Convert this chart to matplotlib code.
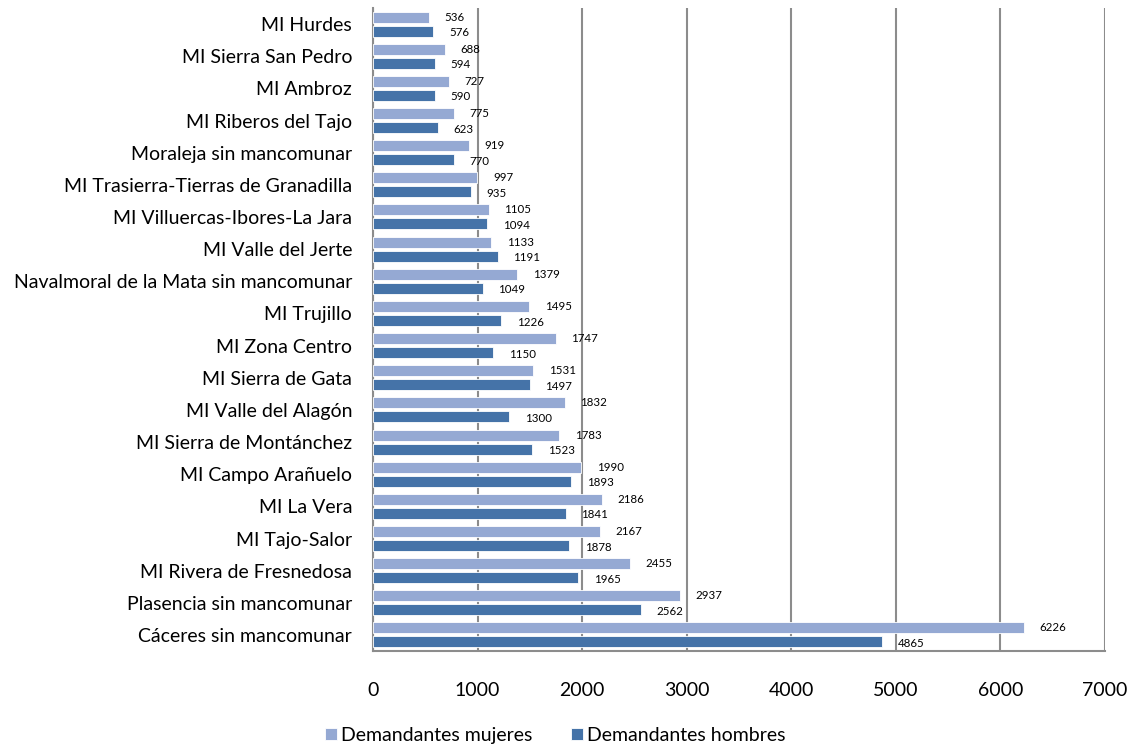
import matplotlib
matplotlib.use("Agg")
import matplotlib.pyplot as plt
import numpy as np

plt.rcParams['font.family'] = ['Lato', 'DejaVu Sans']

categories = [
    "MI Hurdes", "MI Sierra San Pedro", "MI Ambroz", "MI Riberos del Tajo",
    "Moraleja sin mancomunar", "MI Trasierra-Tierras de Granadilla",
    "MI Villuercas-Ibores-La Jara", "MI Valle del Jerte",
    "Navalmoral de la Mata sin mancomunar", "MI Trujillo", "MI Zona Centro",
    "MI Sierra de Gata", "MI Valle del Alagón", "MI Sierra de Montánchez",
    "MI Campo Arañuelo", "MI La Vera", "MI Tajo-Salor",
    "MI Rivera de Fresnedosa", "Plasencia sin mancomunar",
    "Cáceres sin mancomunar",
]
mujeres = [536, 688, 727, 775, 919, 997, 1105, 1133, 1379, 1495, 1747, 1531,
           1832, 1783, 1990, 2186, 2167, 2455, 2937, 6226]
hombres = [576, 594, 590, 623, 770, 935, 1094, 1191, 1049, 1226, 1150, 1497,
           1300, 1523, 1893, 1841, 1878, 1965, 2562, 4865]
xticks = [0, 1000, 2000, 3000, 4000, 5000, 6000, 7000]

c_muj = "#95A9D3"
c_hom = "#4573A8"

fig = plt.figure(figsize=(11.33, 7.46), dpi=100)
ax = fig.add_axes([0.3292, 0.1273, 0.9753 - 0.3292, 0.9893 - 0.1273])

n = len(categories)
y = np.arange(n)
h = 0.342
off = 0.218
b1 = ax.barh(y - off, mujeres, height=h, color=c_muj, edgecolor="white",
             linewidth=0.6, label="Demandantes mujeres", zorder=3)
b2 = ax.barh(y + off, hombres, height=h, color=c_hom, edgecolor="white",
             linewidth=0.6, label="Demandantes hombres", zorder=3)

for yy, v in zip(y - off, mujeres):
    ax.text(v + 150, yy, str(v), fontsize=8.3, va="center", ha="left", zorder=4)
for yy, v in zip(y + off, hombres):
    ax.text(v + 150, yy + 0.05, str(v), fontsize=8.3, va="center", ha="left", zorder=4)

ax.set_ylim(n - 0.5, -0.5)
ax.set_xlim(0, 7000)
ax.set_yticks(y)
ax.set_yticklabels(categories, fontsize=14)
ax.set_xticks(xticks)
ax.set_xticklabels([str(t) for t in xticks], fontsize=14)
ax.tick_params(axis="y", length=0, pad=15)
ax.tick_params(axis="x", length=0, pad=22)

ax.grid(axis="x", color="#8C8C8C", linewidth=1.5, zorder=0)
ax.set_axisbelow(True)
for s in ["top", "right"]:
    ax.spines[s].set_visible(False)
for s in ["left", "bottom"]:
    ax.spines[s].set_color("#8C8C8C")
    ax.spines[s].set_linewidth(1.5)

leg = fig.legend(handles=[b1, b2], loc="center", bbox_to_anchor=(0.49, 0.014),
                 ncol=2, frameon=False, fontsize=14, handlelength=0.6,
                 handleheight=0.6, handletextpad=0.2, columnspacing=2.0)

fig.savefig("out.png", dpi=100)
